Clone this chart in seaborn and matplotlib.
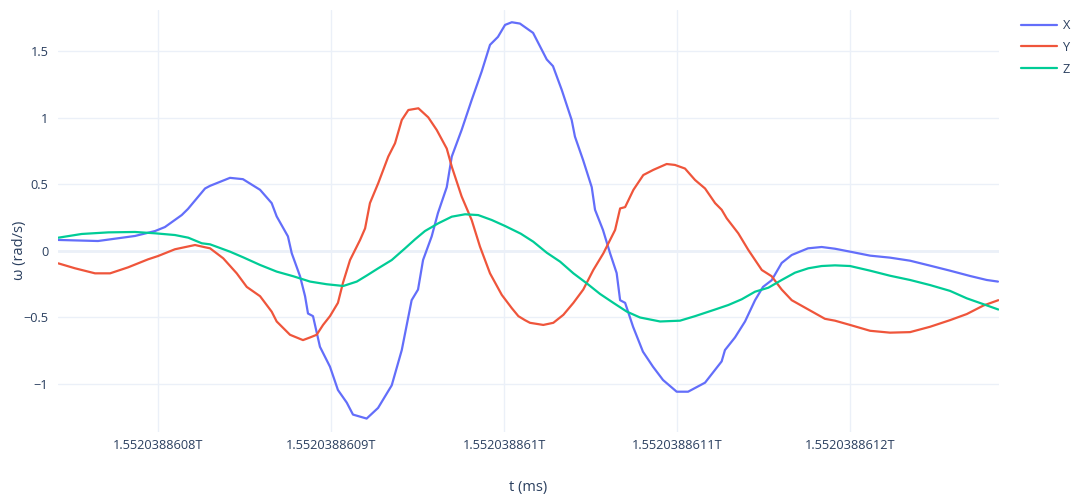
import matplotlib
matplotlib.use("Agg")
import matplotlib.pyplot as plt
import seaborn as sns
import pandas as pd

# time base (ms) and offsets
T0 = 1552038860000

tx = [742.4, 765.3, 786.7, 798.3, 804, 813.7, 817.3, 827.2, 830.1, 841.6, 849.1, 859, 865.7,
      868.6, 875.1, 877.3, 882.1, 885, 886.7, 889.6, 893.6, 899.4, 904, 909.1, 912.7, 920.6,
      927.2, 935.1, 940.9, 946.6, 950.3, 953.2, 958.2, 961.8, 966.9, 969.8, 975.5, 981.3,
      987.1, 991.9, 996.5, 1000.6, 1004.5, 1009.2, 1016.8, 1024.7, 1028.3, 1033.4, 1039.1,
      1041, 1045.7, 1050.7, 1052.6, 1057.2, 1061.3, 1065.1, 1067.1, 1070, 1074.6, 1080.3,
      1086.1, 1091.9, 1099.8, 1106.4, 1116.2, 1125.8, 1127.7, 1133.5, 1139.3, 1145.1,
      1149.7, 1154.7, 1160.5, 1166.3, 1175.7, 1183.6, 1191.3, 1200, 1211.6, 1223.1, 1234.7,
      1246.2, 1257.8, 1269.4, 1279, 1285.5]
x_vals = [0.083, 0.075, 0.113, 0.15, 0.18, 0.27, 0.316, 0.47, 0.49, 0.55, 0.54, 0.46, 0.36,
          0.26, 0.11, -0.017, -0.19, -0.34, -0.47, -0.49, -0.72, -0.87, -1.045, -1.14, -1.23,
          -1.26, -1.18, -1.01, -0.745, -0.37, -0.29, -0.068, 0.11, 0.285, 0.48, 0.71, 0.91,
          1.135, 1.35, 1.55, 1.61, 1.70, 1.72, 1.71, 1.64, 1.44, 1.39, 1.21, 0.985, 0.86,
          0.684, 0.48, 0.31, 0.158, -0.017, -0.166, -0.37, -0.39, -0.57, -0.757, -0.87, -0.97,
          -1.058, -1.058, -0.99, -0.83, -0.745, -0.65, -0.53, -0.37, -0.27, -0.22, -0.09,
          -0.03, 0.02, 0.03, 0.017, -0.005, -0.035, -0.05, -0.073, -0.11, -0.148, -0.188,
          -0.218, -0.23]

ty = [742.4, 752, 763.6, 772.3, 782.7, 794.2, 800, 809.8, 821.4, 827.2, 830.1, 837.7, 845.5,
      851.3, 859, 865.7, 868.6, 876.3, 883.8, 887.9, 891.7, 895.4, 899.4, 904, 906.9, 911,
      916.8, 919.7, 922.5, 927.3, 933.1, 937, 940.9, 944.7, 950.5, 956.2, 961.1, 966.9,
      969.8, 975.5, 981.3, 986.1, 991.9, 998.7, 1004.5, 1008.3, 1012.1, 1015, 1022.7,
      1028.5, 1034.3, 1040.1, 1045.8, 1051.6, 1057.4, 1064.2, 1067.1, 1070, 1074.8, 1080.5,
      1086.3, 1094, 1098.8, 1104.6, 1110.4, 1116.2, 1122, 1125.8, 1128.7, 1135.4, 1141.2,
      1149, 1154.7, 1160.5, 1166.3, 1175.9, 1185.5, 1191.3, 1200, 1211.6, 1223.1, 1234.7,
      1246.2, 1257.8, 1267.5, 1277.1, 1285.7]
y_vals = [-0.093, -0.13, -0.168, -0.168, -0.123, -0.063, -0.038, 0.013, 0.045, 0.028, 0.02,
          -0.055, -0.168, -0.27, -0.34, -0.456, -0.53, -0.63, -0.67, -0.65, -0.63, -0.556,
          -0.49, -0.39, -0.24, -0.068, 0.083, 0.17, 0.36, 0.51, 0.71, 0.81, 0.985, 1.06, 1.073,
          1.005, 0.91, 0.77, 0.634, 0.41, 0.233, 0.033, -0.168, -0.33, -0.43, -0.49, -0.52,
          -0.54, -0.556, -0.54, -0.48, -0.39, -0.29, -0.143, -0.018, 0.158, 0.32, 0.33, 0.46,
          0.571, 0.61, 0.654, 0.647, 0.62, 0.534, 0.47, 0.36, 0.31, 0.246, 0.133, 0.008,
          -0.143, -0.19, -0.29, -0.37, -0.44, -0.51, -0.524, -0.556, -0.6, -0.614, -0.61,
          -0.57, -0.52, -0.474, -0.41, -0.37]

tz = [742.4, 755.9, 771.3, 786.7, 798.3, 809.8, 817.5, 825.3, 830.1, 841.6, 849.3, 859,
      868.6, 878.2, 887.9, 897.5, 907.1, 914.9, 920.6, 927.3, 935.1, 942.8, 948.6, 954.3,
      962, 969.8, 977.5, 985.1, 992.9, 1000.6, 1009.7, 1016.9, 1024.7, 1032.4, 1040.1,
      1047.8, 1055.5, 1063.2, 1071, 1078.6, 1090.2, 1101.7, 1110.4, 1122, 1129.7, 1137.4,
      1145.1, 1152.8, 1160.5, 1168.2, 1175.9, 1183.6, 1191.3, 1200, 1211.6, 1223.1, 1234.7,
      1246.2, 1257.8, 1267.5, 1277.1, 1285.7]
z_vals = [0.1, 0.128, 0.14, 0.143, 0.133, 0.12, 0.1, 0.058, 0.05, -0.005, -0.048, -0.105,
          -0.155, -0.19, -0.23, -0.25, -0.263, -0.23, -0.185, -0.13, -0.068, 0.02, 0.088,
          0.15, 0.208, 0.258, 0.276, 0.27, 0.233, 0.188, 0.13, 0.07, -0.013, -0.08, -0.168,
          -0.243, -0.323, -0.39, -0.456, -0.5, -0.53, -0.524, -0.49, -0.44, -0.406, -0.363,
          -0.306, -0.276, -0.218, -0.163, -0.13, -0.113, -0.108, -0.113, -0.148, -0.186,
          -0.218, -0.256, -0.3, -0.356, -0.4, -0.44]

series_names = ["X", "Y", "Z"]
colors = ["#636EFA", "#EF553B", "#00CC96"]

x_ticks = [800, 900, 1000, 1100, 1200]
x_tick_labels = ["1.5520388608T", "1.5520388609T", "1.552038861T", "1.5520388611T", "1.5520388612T"]
y_ticks = [-1, -0.5, 0, 0.5, 1, 1.5]
y_tick_labels = ["\u22121", "\u22120.5", "0", "0.5", "1", "1.5"]

frames = []
for name, t, v in zip(series_names, [tx, ty, tz], [x_vals, y_vals, z_vals]):
    frames.append(pd.DataFrame({"t": [T0 + ti for ti in t], "w": v, "axis": name}))
df = pd.concat(frames, ignore_index=True)

sns.set_style("white")
plt.rcParams["font.family"] = ["Open Sans", "DejaVu Sans"]

fig = plt.figure(figsize=(10.78, 5.0), dpi=100)
ax = fig.add_axes([58 / 1078, 1 - 432 / 500, (999 - 58) / 1078, (432 - 10) / 500])

sns.lineplot(data=df, x="t", y="w", hue="axis", palette=dict(zip(series_names, colors)),
             linewidth=1.6, ax=ax, errorbar=None, legend=True, zorder=3)

grid_c = "#EBF0F8"
text_c = "#2a3f5f"
ax.set_xlim(T0 + 742.2, T0 + 1286.1)
ax.set_ylim(-1.361, 1.812)
ax.set_xticks([T0 + v for v in x_ticks])
ax.set_xticklabels(x_tick_labels)
ax.set_yticks(y_ticks)
ax.set_yticklabels(y_tick_labels)
ax.grid(True, color=grid_c, linewidth=1, zorder=0)
ax.axhline(0, color=grid_c, linewidth=2, zorder=1)
for s in ax.spines.values():
    s.set_visible(False)
ax.tick_params(axis="both", length=0, labelsize=9.2, colors=text_c)
ax.tick_params(axis="y", pad=7)
ax.tick_params(axis="x", pad=5)
ax.set_xlabel("t (ms)", fontsize=10.5, color=text_c)
ax.set_ylabel("\u03c9 (rad/s)", fontsize=10.5, color=text_c)
ax.xaxis.label.set_va("center")
ax.yaxis.label.set_va("center")
ax.xaxis.set_label_coords(0.5, -(488 - 432) / 422)
ax.yaxis.set_label_coords(-(58 - 19) / 941, (432 - 250) / 422)

handles, labels = ax.get_legend_handles_labels()
ax.legend_.remove()
leg = fig.legend(handles, labels, loc="upper left", bbox_to_anchor=(1021 / 1078, 1 - 19 / 500),
                 frameon=False, fontsize=9.2, handlelength=2.8, handletextpad=0.45,
                 labelspacing=0.7, borderpad=0, borderaxespad=0)
for txt in leg.get_texts():
    txt.set_color(text_c)

fig.savefig("out.png", dpi=100)
